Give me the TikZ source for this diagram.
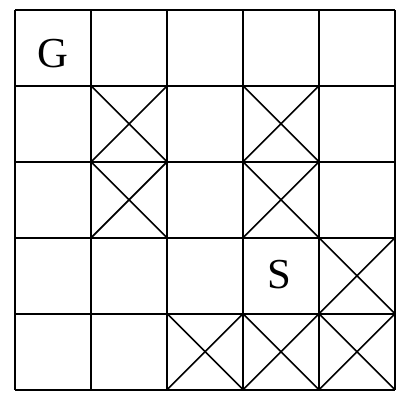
\documentclass[tikz,border=0pt]{standalone}
\usepackage{fontspec}
\setmainfont{Liberation Serif}
\usepackage{tikz}
\usetikzlibrary{positioning}
\tikzset{
  gridln/.style={black, line width=1.3pt},
  crossln/.style={black, line width=1.2pt},
  lbl/.style={font=\fontsize{32}{32}\selectfont, inner sep=0pt}
}

\begin{document}
\begin{tikzpicture}[x=2cm,y=2cm]
\useasboundingbox (-0.2,-0.08) rectangle (5.04,5.13);
% grid
\foreach \i in {0,...,5}{
  \draw[gridln] (\i,0) -- (\i,5);
  \draw[gridln] (0,\i) -- (5,\i);
}
% blocked cells (column, row from bottom)
\foreach \c/\r in {1/3,3/3,1/2,3/2,4/1,2/0,3/0,4/0}{
  \draw[crossln] (\c,\r) -- ++(1,1);
  \draw[crossln] (\c,\r+1) -- ++(1,-1);
}
\node[lbl] (goal) at (0.5,4.43) {G};
\node[lbl] (start) at (3.48,1.52) {S};
\end{tikzpicture}
\end{document}
